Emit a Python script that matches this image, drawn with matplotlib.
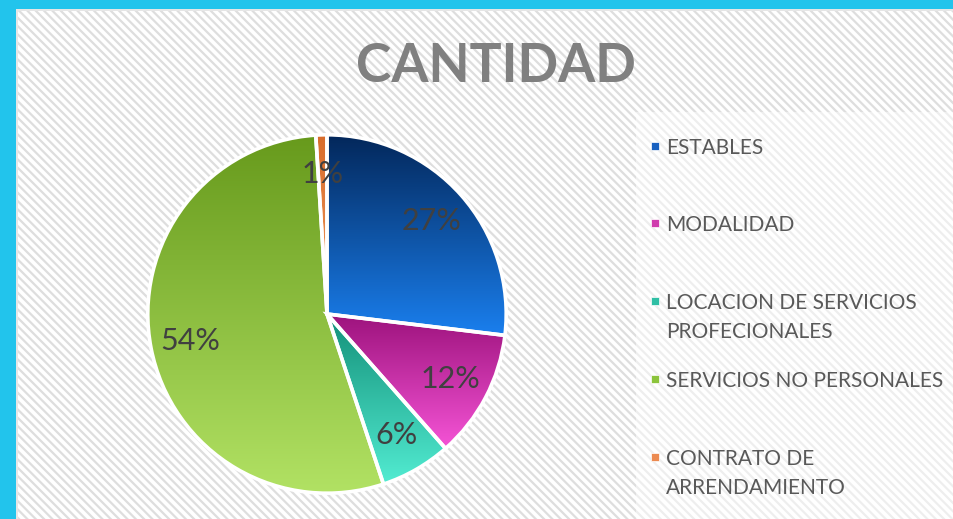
import matplotlib
matplotlib.use("Agg")
import matplotlib.pyplot as plt
import numpy as np
from matplotlib.patches import Rectangle
from matplotlib.colors import LinearSegmentedColormap

# ---- data ----
categories = ["ESTABLES", "MODALIDAD", "LOCACION DE SERVICIOS\nPROFECIONALES",
              "SERVICIOS NO PERSONALES", "CONTRATO DE\nARRENDAMIENTO"]
values = [26.9, 11.6, 6.4, 54.1, 1.0]
title = "CANTIDAD"

top_colors = ["#03275a", "#9c127c", "#138f78", "#679a1c", "#d86c2c"]
bottom_colors = ["#1a7fee", "#f554d6", "#52ecd2", "#b2e264", "#f09a5c"]
legend_colors = ["#1760c0", "#d03cae", "#2fbfa5", "#8cc43c", "#ec8a50"]

W, H = 954, 519
fig = plt.figure(figsize=(W / 100, H / 100), dpi=100)
fig.patch.set_facecolor("white")

plt.rcParams["hatch.linewidth"] = 1.6
plt.rcParams["hatch.color"] = "#dedede"

# background: cyan frame + hatched panel
bg = fig.add_axes([0, 0, 1, 1])
bg.set_xlim(0, W)
bg.set_ylim(H, 0)
bg.axis("off")
bg.add_patch(Rectangle((0, 0), W, H, facecolor="#22c4ec", edgecolor="none"))
bg.add_patch(Rectangle((16, 9), W, H, facecolor="#e6e6e6", edgecolor="none"))
bg.add_patch(Rectangle((18, 11), W, H, facecolor="white", edgecolor="#dedede",
                       hatch="\\\\\\\\", linewidth=0))
# legend panel (lighter)
bg.add_patch(Rectangle((636, 112), W - 636, H - 112, facecolor="white",
                       edgecolor="none", alpha=0.5))

# title
fig.text(496 / W, 1 - 66 / H, title, ha="center", va="center", fontsize=38.5,
         fontweight="bold", color="#808080", family="Lato")

# pie
cx, cy, R = 327, 314, 181
ax = fig.add_axes([(cx - R) / W, (H - cy - R) / H, 2 * R / W, 2 * R / H])
wedges, texts, autotexts = ax.pie(
    values, startangle=90, counterclock=False, radius=1,
    autopct="%.0f%%", pctdistance=0.78,
    wedgeprops=dict(edgecolor="white", linewidth=2.6),
    textprops=dict(fontsize=22, color="#404040", family="Lato"))
ax.set_aspect("equal")
ax.axis("off")

for w, tc, bc in zip(wedges, top_colors, bottom_colors):
    verts = w.get_path().vertices
    x0, x1 = verts[:, 0].min(), verts[:, 0].max()
    y0, y1 = verts[:, 1].min(), verts[:, 1].max()
    cmap = LinearSegmentedColormap.from_list("g", [tc, bc])
    grad = np.linspace(0, 1, 256).reshape(-1, 1)
    im = ax.imshow(grad, cmap=cmap, extent=(x0, x1, y0, y1), origin="upper",
                   aspect="auto", zorder=1, interpolation="bicubic")
    im.set_clip_path(w)
    w.set_facecolor("none")
    w.set_zorder(2)
for t in autotexts:
    t.set_zorder(3)
ax.set_xlim(-1.01, 1.01)
ax.set_ylim(-1.01, 1.01)

# legend (manual)
ys = [146, 223, 301, 379, 457]
for lab, col, y in zip(categories, legend_colors, ys):
    bg.add_patch(Rectangle((651, y - 4), 8, 8, facecolor=col, edgecolor="white",
                           linewidth=0.5))
    bg.text(666, y - 8, lab, ha="left", va="top", fontsize=15,
            color="#595959", family="Lato", linespacing=1.55)

fig.savefig("out.png", dpi=100)
